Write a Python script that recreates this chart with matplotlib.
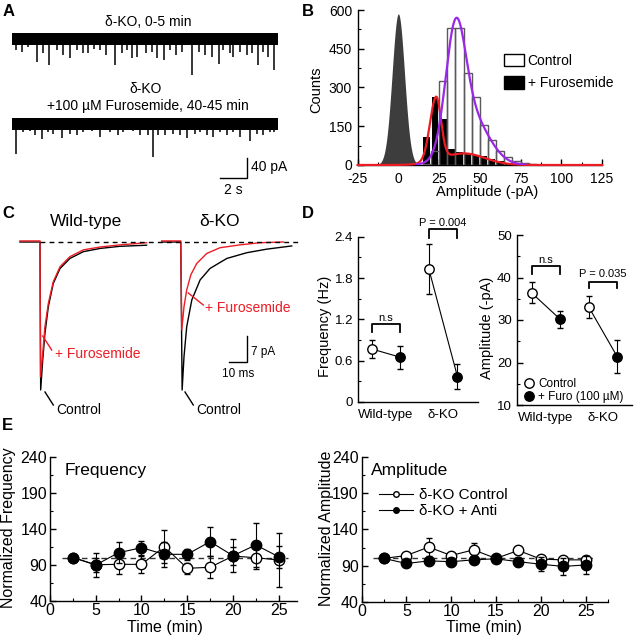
import numpy as np
import matplotlib
matplotlib.use('Agg')
import matplotlib.pyplot as plt
from matplotlib.lines import Line2D
from matplotlib.patches import Patch
from matplotlib.ticker import MultipleLocator, FixedLocator, FuncFormatter

plt.rcParams['font.family'] = ['Liberation Sans', 'DejaVu Sans']
plt.rcParams['axes.linewidth'] = 1.0
plt.rcParams['axes.unicode_minus'] = False

# ---------------- data ----------------
# Panel A: spontaneous event traces (time s, amplitude pA below baseline)
trace_duration = 20.0
noise_halfwidth = 12.0
trace1_spike_t = [0.30, 0.73, 1.23, 1.85, 2.31, 2.81, 3.36, 3.86, 4.36, 4.91, 5.36, 5.74, 6.17,
                  6.62, 7.07, 7.74, 8.25, 8.62, 9.00, 9.37, 10.08, 10.50, 10.88, 11.43, 11.88,
                  12.33, 12.76, 13.51, 14.09, 14.51, 15.01, 15.59, 15.89, 16.39, 16.64, 17.14,
                  17.64, 18.02, 18.52, 18.90, 19.27, 19.73]
trace1_spike_amp = [22, 25, 15, 45, 28, 52, 22, 32, 38, 22, 28, 28, 19, 22, 32, 52, 28, 22, 38,
                    35, 28, 25, 38, 42, 22, 32, 25, 72, 25, 32, 35, 49, 22, 28, 35, 25, 32, 28,
                    52, 25, 35, 62]
trace2_spike_t = [0.30, 0.85, 1.35, 1.73, 2.23, 2.73, 3.11, 3.74, 4.36, 4.86, 5.36, 5.99, 6.62,
                  7.37, 8.00, 8.37, 9.12, 9.62, 10.25, 10.63, 11.00, 11.50, 12.13, 12.63, 13.13,
                  13.76, 14.14, 14.64, 15.14, 15.64, 16.14, 16.64, 17.14, 17.89, 18.40, 18.90,
                  19.40, 19.70]
trace2_spike_amp = [59, 16, 14, 22, 30, 16, 19, 27, 19, 22, 16, 14, 25, 16, 22, 16, 14, 22, 22,
                    65, 22, 22, 19, 22, 27, 19, 16, 22, 25, 16, 22, 16, 25, 33, 19, 22, 16, 16]

# Panel B: amplitude histogram
bin_left = np.arange(10, 115, 5)
control_counts = [0, 5, 55, 324, 531, 531, 355, 262, 155, 95, 55, 30, 15, 7, 2, 0, 0, 0, 0, 0, 0]
furo_counts = [0, 107, 262, 178, 62, 49, 45, 40, 33, 23, 14, 6, 4, 3, 2, 2, 1, 2, 1, 3, 1]
noise_amp, noise_mu, noise_sigma = 585, 0.0, 3.8
ctrl_fit_amp1, ctrl_fit_mu1, ctrl_fit_sig1 = 430, 35.0, 6.0
ctrl_fit_amp2, ctrl_fit_mu2, ctrl_fit_sig2 = 190, 44.0, 11.0
furo_fit_amp1, furo_fit_mu1, furo_fit_sigL, furo_fit_sigR = 245, 23.2, 3.8, 3.0
furo_fit_amp2, furo_fit_mu2, furo_fit_sig2 = 45, 40.0, 13.0

# Panel C: averaged events (ms, pA)
wt_ctrl_t = [-11.8, 0.0, 0.4, 1.6, 2.9, 4.9, 7.8, 11.8, 17.6, 25.5, 35.3, 47.0, 62.7]
wt_ctrl_i = [0.0, 0.0, -41.4, -33.0, -25.6, -18.1, -11.6, -7.4, -4.6, -2.7, -1.8, -1.2, -0.9]
wt_furo_t = [-11.8, 0.0, 0.3, 1.6, 2.9, 4.9, 7.8, 11.8, 17.6, 25.5, 35.3, 47.0, 62.7]
wt_furo_i = [0.3, 0.3, -37.7, -31.2, -23.7, -17.2, -11.1, -6.9, -4.1, -2.2, -1.4, -0.8, -0.2]
ko_ctrl_t = [-11.2, 0.0, 0.8, 1.9, 3.5, 6.5, 11.4, 17.2, 27.1, 38.8, 50.6, 65.3]
ko_ctrl_i = [0.0, 0.0, -41.4, -32.1, -23.7, -16.2, -10.6, -7.4, -4.6, -3.0, -2.0, -1.1]
ko_furo_t = [-11.2, 0.0, 0.6, 1.9, 3.5, 5.9, 9.4, 15.3, 23.1, 34.9, 46.7, 60.4]
ko_furo_i = [0.3, 0.3, -24.6, -18.1, -13.4, -9.2, -6.0, -3.2, -1.6, -0.8, -0.2, 0.0]

# Panel D
genotypes = ['Wild-type', 'δ-KO']
freq_ctrl = [0.77, 1.93]
freq_ctrl_err = [0.13, 0.36]
freq_furo = [0.65, 0.37]
freq_furo_err = [0.17, 0.18]
amp_ctrl = [36.4, 33.1]
amp_ctrl_err = [2.5, 2.6]
amp_furo = [30.2, 21.4]
amp_furo_err = [2.0, 3.9]

# Panel E
time_min = [2.5, 5, 7.5, 10, 12.5, 15, 17.5, 20, 22.5, 25]
norm_ticks = [40, 90, 140, 190, 240]
norm_freq_ctrl = [100, 90, 90.5, 90.5, 115, 85, 86.4, 102, 99.7, 96.5]
norm_freq_ctrl_err = [0, 10, 13, 12, 23, 8, 15, 12, 15, 38]
norm_freq_anti = [100, 89.6, 106.7, 113.6, 104.4, 104.4, 122, 102.5, 117.4, 101]
norm_freq_anti_err = [0, 16, 15, 10, 17, 8, 20, 23, 31, 15]
norm_amp_ctrl = [100, 104, 115.6, 104, 111.8, 100, 111, 99, 98, 98]
norm_amp_ctrl_err = [0, 4, 12, 5, 9, 3, 5, 4, 4, 4]
norm_amp_anti = [100, 93, 96.6, 95.5, 98, 99.5, 95.5, 92, 89, 91]
norm_amp_anti_err = [0, 5, 4, 5, 4, 4, 6, 10, 12, 12]

# ---------------- helpers ----------------
W, H = 634, 640
fig = plt.figure(figsize=(W / 100, H / 100), dpi=100)


def rect(x0, y0, x1, y1):
    return [x0 / W, 1 - y1 / H, (x1 - x0) / W, (y1 - y0) / H]


def ftext(x, y, s, **kw):
    fig.text(x / W, 1 - y / H, s, **kw)


def fline(xs, ys, **kw):
    fig.add_artist(Line2D([x / W for x in xs], [1 - y / H for y in ys],
                          transform=fig.transFigure, **kw))


def style_axes(ax, fs):
    for s in ['top', 'right']:
        ax.spines[s].set_visible(False)
    ax.tick_params(which='both', direction='in', labelsize=fs)
    ax.tick_params(which='major', length=4, width=1)
    ax.tick_params(which='minor', length=2, width=0.8)


RED = '#ec1c24'
PURPLE = '#9b27e8'

# ---------------- Panel A ----------------
for rc, st, sa in [((12, 25, 278, 80), trace1_spike_t, trace1_spike_amp),
                   ((12, 110, 278, 190), trace2_spike_t, trace2_spike_amp)]:
    ax = fig.add_axes(rect(*rc))
    ax.set_xlim(0, trace_duration)
    ax.set_ylim(-(rc[3] - rc[1]) * 2 + 28, 28)
    ax.fill_between([0, trace_duration], -noise_halfwidth, noise_halfwidth, color='black', lw=0)
    ax.vlines(st, 0, -np.array(sa), color='black', lw=1.1)
    ax.axis('off')

ftext(148, 26, 'δ-KO, 0-5 min', ha='center', va='baseline', fontsize=10)
ftext(146, 93, 'δ-KO', ha='center', va='baseline', fontsize=10)
ftext(148, 110, '+100 µM Furosemide, 40-45 min', ha='center', va='baseline', fontsize=10)
fline([220, 246.7, 246.7], [178.3, 178.3, 158.3], color='black', lw=1)
ftext(251.5, 171, '40 pA', ha='left', va='baseline', fontsize=10)
ftext(233.5, 193.5, '2 s', ha='center', va='baseline', fontsize=10)

# ---------------- Panel B ----------------
axB = fig.add_axes(rect(357.6, 10, 602, 165))
style_axes(axB, 10)
xg = np.linspace(-25, 125, 1501)
noise_curve = noise_amp * np.exp(-(xg - noise_mu) ** 2 / (2 * noise_sigma ** 2))
axB.fill_between(xg, 0, noise_curve, where=np.abs(xg) < 14, color='#3d3d3d', lw=0, zorder=2)
centers = bin_left + 2.5
fc = np.array(furo_counts)
cc = np.array(control_counts)
axB.bar(centers[fc > 0], fc[fc > 0], width=4.2, color='black', lw=0, zorder=3)
axB.bar(centers[cc > 0], cc[cc > 0], width=5, facecolor='none', edgecolor='#5a5a5a', lw=1, zorder=4)
sig = np.where(xg < furo_fit_mu1, furo_fit_sigL, furo_fit_sigR)
furo_curve = (furo_fit_amp1 * np.exp(-(xg - furo_fit_mu1) ** 2 / (2 * sig ** 2)) +
              furo_fit_amp2 * np.exp(-(xg - furo_fit_mu2) ** 2 / (2 * furo_fit_sig2 ** 2)))
axB.plot(xg, furo_curve, color=RED, lw=1.6, zorder=5, clip_on=False)
xp = np.linspace(11, 78, 600)
ctrl_curve = (ctrl_fit_amp1 * np.exp(-(xp - ctrl_fit_mu1) ** 2 / (2 * ctrl_fit_sig1 ** 2)) +
              ctrl_fit_amp2 * np.exp(-(xp - ctrl_fit_mu2) ** 2 / (2 * ctrl_fit_sig2 ** 2)))
axB.plot(xp, ctrl_curve, color=PURPLE, lw=1.6, zorder=6)
axB.set_xlim(-25, 125)
axB.set_ylim(0, 600)
axB.xaxis.set_major_locator(MultipleLocator(25))
axB.xaxis.set_minor_locator(MultipleLocator(12.5))
axB.yaxis.set_major_locator(MultipleLocator(150))
axB.yaxis.set_minor_locator(MultipleLocator(75))
axB.tick_params(axis='x', pad=5)
axB.tick_params(axis='y', pad=4)
axB.legend(handles=[Patch(facecolor='white', edgecolor='black', lw=1, label='Control'),
                    Patch(facecolor='black', edgecolor='black', label='+ Furosemide')],
           loc='upper left', bbox_to_anchor=(504 / W, 1 - 54 / H), bbox_transform=fig.transFigure,
           frameon=False, fontsize=10, handlelength=1.45, handleheight=1.0,
           handletextpad=0.25, labelspacing=0.6, borderpad=0, borderaxespad=0)
ftext(316, 90, 'Counts', rotation=90, ha='center', va='center', fontsize=10.5)
ftext(487, 196, 'Amplitude (-pA)', ha='center', va='baseline', fontsize=10.5)

# ---------------- Panel C ----------------
axC1 = fig.add_axes(rect(15, 232, 150, 400))
axC2 = fig.add_axes(rect(158, 232, 298, 400))
axC1.set_xlim(-14.7, 64.7)
axC2.set_xlim(-13.4, 69.0)
for ax in (axC1, axC2):
    ax.set_ylim(-44.2, 2.8)
    ax.axis('off')
axC1.plot(wt_ctrl_t, wt_ctrl_i, color='black', lw=1)
axC1.plot(wt_furo_t, wt_furo_i, color=RED, lw=1)
axC2.plot(ko_ctrl_t, ko_ctrl_i, color='black', lw=1)
axC2.plot(ko_furo_t, ko_furo_i, color=RED, lw=1)
fline([40, 300], [242, 242], color='black', lw=1, ls=(0, (3.5, 3)))
ftext(86, 226, 'Wild-type', ha='center', va='baseline', fontsize=12.5)
ftext(220, 226, 'δ-KO', ha='center', va='baseline', fontsize=12.5)
fline([42.7, 51.7], [336, 350], color=RED, lw=1)
ftext(55, 358.5, '+ Furosemide', color=RED, ha='left', va='baseline', fontsize=10)
fline([45, 53.3], [392, 405], color='black', lw=1)
ftext(56, 414.5, 'Control', ha='left', va='baseline', fontsize=10)
fline([188.3, 203.3], [293, 305], color=RED, lw=1)
ftext(205, 311.5, '+ Furosemide', color=RED, ha='left', va='baseline', fontsize=10)
fline([185, 193.3], [392, 405], color='black', lw=1)
ftext(196, 414.5, 'Control', ha='left', va='baseline', fontsize=10)
fline([229.3, 246.7, 246.7], [361.7, 361.7, 336], color='black', lw=1)
ftext(251.5, 354.5, '7 pA', ha='left', va='baseline', fontsize=8.5)
ftext(238.5, 377, '10 ms', ha='center', va='baseline', fontsize=8.5)

# ---------------- Panel D ----------------
off = 0.25
xs = np.arange(len(genotypes))


def draw_pairs(ax, ctrl, ctrl_err, furo, furo_err):
    for i in xs:
        ax.plot([i - off, i + off], [ctrl[i], furo[i]], color='black', lw=0.8, zorder=1)
    ax.errorbar(xs - off, ctrl, yerr=ctrl_err, fmt='o', mfc='white', mec='black', mew=1,
                ms=6.8, ecolor='black', elinewidth=0.8, capsize=2.5, capthick=0.8, zorder=3,
                clip_on=False)
    ax.errorbar(xs + off, furo, yerr=furo_err, fmt='o', mfc='black', mec='black', mew=1,
                ms=6.8, ecolor='black', elinewidth=0.8, capsize=2.5, capthick=0.8, zorder=3,
                clip_on=False)
    ax.set_xticks(xs)
    ax.set_xticklabels(genotypes)
    ax.tick_params(axis='x', which='both', length=0, pad=5, labelsize=9.5)


def bracket(ax, x0, x1, ylo, yhi, txt, ytxt):
    ax.plot([x0, x0, x1, x1], [ylo, yhi, yhi, ylo], color='black', lw=1.3, clip_on=False)
    ax.text((x0 + x1) / 2, ytxt, txt, ha='center', va='baseline', fontsize=8)


axD1 = fig.add_axes(rect(358, 236.7, 478, 402))
style_axes(axD1, 9.5)
draw_pairs(axD1, freq_ctrl, freq_ctrl_err, freq_furo, freq_furo_err)
axD1.set_xlim(-0.49, 1.61)
axD1.set_ylim(0, 2.4)
axD1.yaxis.set_major_locator(MultipleLocator(0.6))
axD1.yaxis.set_minor_locator(MultipleLocator(0.3))
axD1.yaxis.set_major_formatter(FuncFormatter(lambda v, p: '0' if abs(v) < 1e-9 else f'{v:.1f}'))
bracket(axD1, -off, off, 1.02, 1.13, 'n.s', 1.18)
bracket(axD1, 1 - off, 1 + off, 2.38, 2.51, 'P = 0.004', 2.56)
ftext(325, 326, 'Frequency (Hz)', rotation=90, ha='center', va='center', fontsize=10.5)

axD2 = fig.add_axes(rect(516.7, 235, 632, 405))
style_axes(axD2, 9.5)
draw_pairs(axD2, amp_ctrl, amp_ctrl_err, amp_furo, amp_furo_err)
axD2.set_xlim(-0.51, 1.51)
axD2.set_ylim(10, 50)
axD2.yaxis.set_major_locator(MultipleLocator(10))
axD2.yaxis.set_minor_locator(MultipleLocator(5))
bracket(axD2, -off, off, 40.8, 42.7, 'n.s', 43.5)
bracket(axD2, 1 - off, 1 + off, 37.5, 39.0, 'P = 0.035', 40.2)
axD2.legend(handles=[Line2D([], [], marker='o', ls='none', mfc='white', mec='black', ms=6.8,
                            label='Control'),
                     Line2D([], [], marker='o', ls='none', mfc='black', mec='black', ms=6.8,
                            label='+ Furo (100 µM)')],
            loc='lower left', bbox_to_anchor=(524 / W, 1 - 403 / H), bbox_transform=fig.transFigure,
            frameon=False, fontsize=8.5, handlelength=0.9, handletextpad=0.3, labelspacing=0.1,
            borderpad=0, borderaxespad=0)
ftext(487, 328, 'Amplitude (-pA)', rotation=90, ha='center', va='center', fontsize=10.5)

# ---------------- Panel E ----------------


def draw_time(ax, ctrl, ctrl_err, anti, anti_err):
    ax.plot([1.3, 26], [100, 100], color='#333333', lw=1, ls=(0, (4, 3)), zorder=1)
    ax.errorbar(time_min, ctrl, yerr=ctrl_err, fmt='-o', color='black', lw=0.8, mfc='white',
                mec='black', mew=1, ms=7.5, elinewidth=0.8, capsize=2, capthick=0.8, zorder=3)
    ax.errorbar(time_min, anti, yerr=anti_err, fmt='-o', color='black', lw=0.8, mfc='black',
                mec='black', mew=1, ms=7.5, elinewidth=0.8, capsize=2, capthick=0.8, zorder=4)
    ax.set_ylim(40, 240)
    ax.xaxis.set_major_locator(MultipleLocator(5))
    ax.xaxis.set_minor_locator(MultipleLocator(2.5))
    ax.yaxis.set_major_locator(FixedLocator(norm_ticks))
    ax.yaxis.set_minor_locator(FixedLocator([t + 25 for t in norm_ticks[:-1]]))
    ax.tick_params(axis='y', pad=2)
    ax.tick_params(axis='x', pad=1.5)


axE1 = fig.add_axes(rect(50, 456.7, 297, 600.7))
style_axes(axE1, 11.5)
draw_time(axE1, norm_freq_ctrl, norm_freq_ctrl_err, norm_freq_anti, norm_freq_anti_err)
axE1.set_xlim(0, 27)
ftext(65, 474.5, 'Frequency', ha='left', va='baseline', fontsize=12.5)
ftext(9, 528, 'Normalized Frequency', rotation=90, ha='center', va='center', fontsize=11.5)
ftext(165, 632, 'Time (min)', ha='center', va='baseline', fontsize=11.5)

axE2 = fig.add_axes(rect(361.5, 456.7, 608, 602))
style_axes(axE2, 11.5)
draw_time(axE2, norm_amp_ctrl, norm_amp_ctrl_err, norm_amp_anti, norm_amp_anti_err)
axE2.set_xlim(0, 27.5)
axE2.legend(handles=[Line2D([], [], color='black', lw=0.8, marker='o', mfc='white', mec='black',
                            ms=4, label='δ-KO Control'),
                     Line2D([], [], color='black', lw=0.8, marker='o', mfc='black', mec='black',
                            ms=4, label='δ-KO + Anti')],
            loc='upper left', bbox_to_anchor=(379 / W, 1 - 488 / H), bbox_transform=fig.transFigure,
            frameon=False, fontsize=11, handlelength=2.2, handletextpad=0.45, labelspacing=0.15,
            borderpad=0, borderaxespad=0)
ftext(371, 475, 'Amplitude', ha='left', va='baseline', fontsize=12.5)
ftext(326, 528, 'Normalized Amplitude', rotation=90, ha='center', va='center', fontsize=11.5)
ftext(484, 632, 'Time (min)', ha='center', va='baseline', fontsize=11.5)

# panel letters
for (x, y, s) in [(3, 15.5, 'A'), (302, 15.5, 'B'), (2, 218.5, 'C'), (302, 218.5, 'D'), (2, 430.5, 'E')]:
    ftext(x, y, s, ha='left', va='baseline', fontsize=12, fontweight='bold')

fig.savefig('out.png', dpi=100)
